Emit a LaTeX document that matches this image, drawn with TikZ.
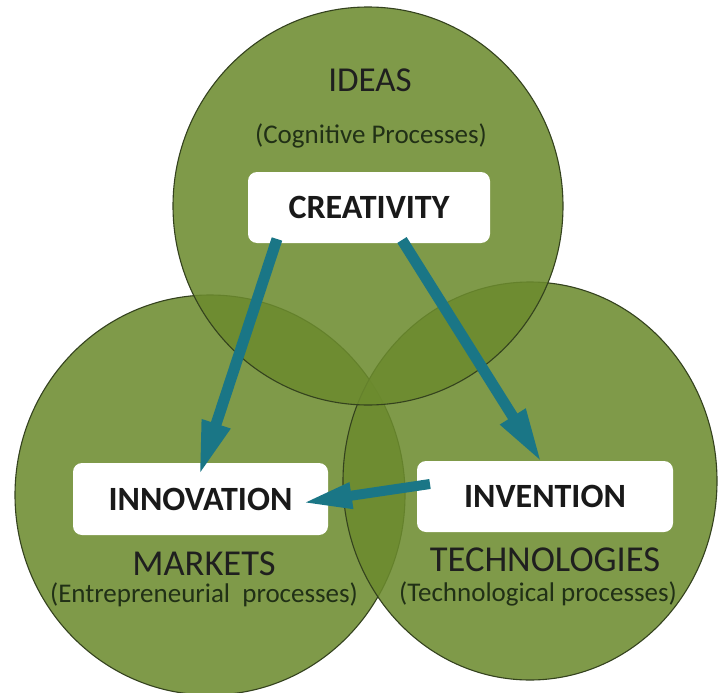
\documentclass[tikz,border=0pt]{standalone}
\usepackage{fontspec}
\setmainfont{Carlito}
\usetikzlibrary{arrows.meta,shapes.geometric}
\definecolor{cfill}{RGB}{108,139,46}
\definecolor{cedge}{RGB}{52,66,30}
\definecolor{tealarrow}{RGB}{26,118,134}
\definecolor{subtxt}{RGB}{33,48,22}
\begin{document}
\begin{tikzpicture}[x=1pt,y=-1pt,
  venn/.style={ellipse, draw=cedge, line width=1.1pt, fill=cfill, fill opacity=0.87, inner sep=0pt},
  labelbox/.style={fill=white, rounded corners=9pt, inner sep=0pt, font=\fontsize{34}{36}\selectfont\bfseries, text=black!90},
  titletext/.style={anchor=base, inner sep=0pt, font=\fontsize{36.5}{38}\selectfont, text=black!88},
  subtext/.style={anchor=base, inner sep=0pt, font=\fontsize{27}{29}\selectfont, text=subtxt},
  flow/.style={draw=tealarrow, line width=11pt, -{Triangle[length=55pt,width=27pt]}}
]
\fill[white] (0,0) rectangle (718,693);
\useasboundingbox (0,0) rectangle (718,693);

% circles
\node[venn, minimum width=390pt, minimum height=400pt] (markets) at (210,495) {};
\node[venn, minimum width=374pt, minimum height=398pt] (technologies) at (530,481) {};
\node[venn, minimum width=390pt, minimum height=398pt] (ideas) at (368,206) {};

% titles
\node[titletext, font=\fontsize{35}{38}\selectfont] (ideastitle) at (370,92) {IDEAS};
\node[subtext] (ideassub) at (371,143) {(Cognitive Processes)};
\node[titletext] (marketstitle) at (204,575) {MARKETS};
\node[subtext] (marketssub) at (204,602) {(Entrepreneurial\ \ processes)};
\node[titletext] (techtitle) at (545,571) {TECHNOLOGIES};
\node[subtext] (techsub) at (538,601) {(Technological processes)};

% boxes
\node[labelbox, minimum width=242pt, minimum height=71pt] (creativity) at (369,207.5) {CREATIVITY};
\node[labelbox, minimum width=255pt, minimum height=72pt] (innovation) at (200.5,499) {INNOVATION};
\node[labelbox, minimum width=256pt, minimum height=71pt] (invention) at (545,496.5) {INVENTION};

% connector ends
\coordinate (c1s) at (277,239);
\coordinate (c1e) at (199,476);
\coordinate (c2s) at (402,240);
\coordinate (c2e) at (542,463);
\coordinate (c3s) at (430,484);
\coordinate (c3e) at (302,503);

\draw[flow] (c1s) -- (c1e);
\draw[flow] (c2s) -- (c2e);
\draw[flow, line width=10pt, -{Triangle[length=50pt,width=24pt]}] (c3s) -- (c3e);
\end{tikzpicture}
\end{document}
